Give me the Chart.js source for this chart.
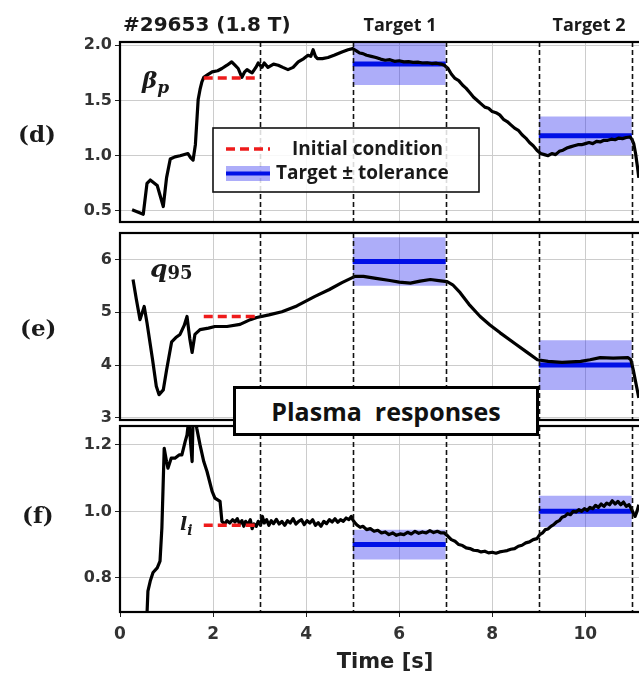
<!DOCTYPE html>
<html><head><meta charset="utf-8">
<script src="https://cdn.jsdelivr.net/npm/chart.js@4.4.0/dist/chart.umd.min.js"></script>
<style>
html,body{margin:0;padding:0;background:#fff;overflow:hidden;}
#wrap{position:relative;width:639px;height:680px;overflow:hidden;background:#fff;}
canvas{position:absolute;left:0;top:0;}
.t{position:absolute;white-space:nowrap;line-height:1;color:#1a1a1a;}
.sans{font-family:"DejaVu Sans",sans-serif;font-weight:bold;}
.open{font-family:"Open Sans",sans-serif;font-weight:bold;}
.serif{font-family:"DejaVu Serif",serif;font-weight:bold;}
.ctr{transform:translateX(-50%);}
#plasma{position:absolute;left:233px;top:386px;width:306px;height:50px;box-sizing:border-box;border:3px solid #000;background:#fff;display:flex;align-items:center;justify-content:center;font-family:"Open Sans",sans-serif;font-weight:bold;font-size:25px;color:#111;white-space:pre;}
</style></head>
<body><div id="wrap">
<canvas id="cd" width="650" height="680"></canvas>
<canvas id="ce" width="650" height="680"></canvas>
<canvas id="cf" width="650" height="680"></canvas>
<div class="t sans" style="left:123px;top:14px;font-size:20px;">#29653 (1.8 T)</div>
<div class="t open ctr" style="left:400px;top:15px;font-size:18px;">Target 1</div>
<div class="t open ctr" style="left:589px;top:15px;font-size:18px;">Target 2</div>
<div class="t serif" style="left:18px;top:122px;font-size:23px;">(d)</div>
<div class="t serif" style="left:20px;top:316px;font-size:23px;">(e)</div>
<div class="t serif" style="left:22px;top:503px;font-size:23px;">(f)</div>
<div class="t serif" style="left:142px;top:68px;font-size:23px;font-style:italic;">β<span style="font-size:17px;position:relative;top:5px;">p</span></div>
<div class="t serif" style="left:150px;top:256px;font-size:25px;font-style:italic;">q<span style="font-size:18px;font-style:normal;position:relative;top:2px;">95</span></div>
<div class="t serif" style="left:180px;top:514px;font-size:19px;font-style:italic;">l<span style="font-size:14px;position:relative;top:5px;">i</span></div>
<div id="plasma">Plasma  responses</div>
</div>
<script>
// ---------------- data ----------------
const xTicks = [0, 2, 4, 6, 8, 10];
const xMin = 0, xMax = 11.39;
const markerTimes = [3, 5, 7, 9, 11];
const targetWindows = [[5, 7], [9, 11]];
const initWindow = [1.8, 3];

// beta_p
const tBeta = [0.26,0.5,0.58,0.65,0.8,0.93,1.0,1.08,1.18,1.29,1.46,1.52,1.57,1.62,1.68,1.72,1.76,1.8,1.87,1.98,2.1,2.19,2.3,2.4,2.47,2.54,2.62,2.68,2.73,2.8,2.84,2.92,2.97,3.05,3.1,3.18,3.3,3.4,3.5,3.61,3.72,3.83,3.95,4.04,4.1,4.15,4.2,4.24,4.35,4.47,4.6,4.77,4.9,
  5.0,5.08,5.15,5.22,5.3,5.4,5.5,5.6,5.7,5.8,5.9,6.0,6.1,6.2,6.3,6.4,6.5,6.6,6.7,6.8,6.9,6.97,7.05,7.12,7.2,7.28,7.36,7.44,7.52,7.6,7.68,7.76,7.84,7.92,8.0,8.08,8.16,8.24,8.32,8.4,8.48,8.56,8.64,8.72,8.8,8.88,8.96,9.04,9.12,9.2,9.28,9.36,9.44,9.52,9.6,9.68,9.76,9.84,9.92,10.0,10.08,10.16,10.24,10.32,10.4,10.48,10.56,10.64,10.72,10.8,10.88,10.96,11.0,11.04,11.08,11.12,11.15];
const betaP = [0.51,0.47,0.75,0.78,0.73,0.54,0.8,0.97,0.99,1.0,1.02,0.98,0.96,1.1,1.51,1.6,1.67,1.71,1.73,1.76,1.77,1.79,1.82,1.85,1.82,1.79,1.71,1.76,1.78,1.76,1.75,1.8,1.84,1.8,1.84,1.8,1.83,1.82,1.8,1.78,1.8,1.85,1.88,1.91,1.9,1.96,1.9,1.88,1.88,1.89,1.91,1.94,1.96,
  1.97,1.95,1.93,1.925,1.91,1.9,1.89,1.875,1.865,1.87,1.855,1.86,1.85,1.852,1.845,1.848,1.84,1.842,1.835,1.838,1.83,1.82,1.79,1.74,1.7,1.68,1.64,1.61,1.57,1.53,1.5,1.47,1.44,1.43,1.4,1.39,1.37,1.33,1.31,1.28,1.25,1.23,1.19,1.16,1.12,1.09,1.05,1.02,1.01,1.0,1.02,1.01,1.04,1.05,1.07,1.08,1.09,1.1,1.1,1.11,1.12,1.11,1.13,1.125,1.14,1.14,1.15,1.145,1.16,1.155,1.165,1.17,1.15,1.11,1.02,0.9,0.8];
const betaInit = 1.705;
const betaTarget = [1.83, 1.18];
const betaTol = [0.19, 0.175];
const betaTicks = [0.5, 1.0, 1.5, 2.0];
const betaMin = 0.4, betaMax = 2.03;

// q95
const tQ = [0.28,0.35,0.43,0.52,0.58,0.7,0.78,0.84,0.93,1.0,1.11,1.2,1.29,1.38,1.44,1.5,1.55,1.61,1.72,1.9,2.04,2.3,2.58,2.8,2.94,3.2,3.48,3.8,4.19,4.5,4.77,5.05,5.23,5.5,5.8,6.0,6.24,6.45,6.67,6.85,7.03,7.15,7.31,7.5,7.74,7.95,8.17,8.5,8.75,8.97,9.2,9.5,9.9,10.1,10.32,10.6,10.92,10.98,11.03,11.1,11.15];
const q95 = [5.62,5.25,4.86,5.11,4.8,4.1,3.6,3.44,3.53,3.9,4.44,4.52,4.58,4.75,4.92,4.5,4.24,4.58,4.67,4.7,4.73,4.73,4.77,4.86,4.9,4.95,5.01,5.12,5.3,5.43,5.56,5.68,5.68,5.64,5.6,5.57,5.55,5.59,5.62,5.6,5.58,5.52,5.37,5.15,4.92,4.76,4.61,4.4,4.24,4.1,4.07,4.05,4.07,4.1,4.14,4.13,4.14,4.1,3.91,3.6,3.38];
const q95Init = 4.92;
const q95Target = [5.96, 4.0];
const q95Tol = [0.46, 0.47];
const q95Ticks = [3, 4, 5, 6];
const q95Min = 2.96, q95Max = 6.5;

// l_i
const tLi = [0.58,0.6,0.65,0.71,0.8,0.86,0.9,0.95,1.0,1.03,1.1,1.18,1.27,1.33,1.4,1.44,1.48,1.52,1.55,1.57,1.62,1.65,1.72,1.8,1.87,1.98,2.04,2.15,
  2.19,2.25,2.3,2.36,2.42,2.47,2.52,2.57,2.62,2.66,2.7,2.75,2.8,2.84,2.88,2.93,2.97,3.02,3.06,3.1,3.15,3.2,3.25,3.3,3.36,3.42,3.48,3.54,3.6,3.66,3.72,3.78,3.84,3.9,3.96,4.02,4.08,4.14,4.2,4.26,4.32,4.38,4.44,4.5,4.56,4.62,4.68,4.74,4.8,4.86,4.92,4.97,5.0,
  5.05,5.1,5.16,5.22,5.3,5.38,5.46,5.54,5.62,5.7,5.78,5.86,5.94,6.02,6.1,6.18,6.26,6.34,6.42,6.5,6.58,6.66,6.74,6.82,6.9,6.97,7.05,7.12,7.2,7.28,7.36,7.44,7.52,7.6,7.68,7.76,7.84,7.92,8.0,8.08,8.16,8.24,8.32,8.4,8.48,8.56,8.64,8.72,8.8,8.88,8.96,9.02,9.08,9.14,9.2,9.26,9.32,9.38,9.44,9.5,9.56,9.62,9.68,9.74,9.8,9.86,9.92,9.98,10.04,10.1,10.16,10.22,10.28,10.34,10.4,10.46,10.52,10.58,10.64,10.7,10.76,10.82,10.88,10.94,10.98,11.03,11.07,11.11,11.15];
const li = [0.69,0.76,0.79,0.816,0.83,0.85,0.95,1.19,1.15,1.13,1.16,1.16,1.17,1.17,1.21,1.23,1.28,1.2,1.15,1.28,1.28,1.25,1.2,1.15,1.12,1.06,1.04,1.03,
  0.97,0.962,0.972,0.965,0.975,0.968,0.978,0.962,0.972,0.955,0.97,0.96,0.975,0.948,0.962,0.955,0.97,0.958,0.985,0.965,0.975,0.958,0.972,0.963,0.976,0.962,0.97,0.958,0.972,0.965,0.978,0.962,0.97,0.975,0.96,0.972,0.965,0.975,0.958,0.966,0.955,0.97,0.963,0.975,0.968,0.978,0.967,0.975,0.97,0.98,0.975,0.985,0.975,
  0.965,0.958,0.952,0.955,0.945,0.948,0.94,0.943,0.935,0.938,0.93,0.935,0.928,0.932,0.93,0.937,0.932,0.94,0.934,0.938,0.935,0.942,0.936,0.94,0.935,0.935,0.925,0.915,0.91,0.9,0.897,0.89,0.888,0.883,0.882,0.878,0.88,0.875,0.877,0.874,0.878,0.88,0.882,0.886,0.888,0.895,0.898,0.905,0.908,0.915,0.918,0.93,0.935,0.945,0.947,0.955,0.96,0.968,0.972,0.982,0.985,0.993,0.99,1.0,0.998,1.005,1.0,1.008,1.003,1.012,1.008,1.018,1.012,1.022,1.015,1.025,1.02,1.032,1.022,1.03,1.02,1.028,1.015,1.02,1.01,0.995,0.985,1.0,1.02];
const liInit = 0.958;
const liTarget = [0.9, 1.0];
const liTol = [0.045, 0.047];
const liTicks = [0.8, 1.0, 1.2];
const liMin = 0.697, liMax = 1.257;

// ---------------- styles ----------------
const RED = '#ee1b1b', BLUE = '#0010e6', BAND = 'rgba(40,40,240,0.38)', GRID = '#cccccc';

function pts(xs, ys) { return xs.map((x, i) => ({x, y: ys[i]})); }

function buildDatasets(t, v, init, targets, tols) {
  const ds = [];
  ds.push({data: [{x: initWindow[0], y: init}, {x: initWindow[1], y: init}], borderColor: RED, borderWidth: 3.5, borderDash: [9, 5], order: 0});
  ds.push({data: pts(t, v), borderColor: '#000', borderWidth: 3.2, order: 1, borderJoinStyle: 'round'});
  targetWindows.forEach((w, i) => {
    ds.push({data: [{x: w[0], y: targets[i]}, {x: w[1], y: targets[i]}], borderColor: BLUE, borderWidth: 5, order: 2});
    ds.push({data: [{x: w[0], y: targets[i] + tols[i]}, {x: w[1], y: targets[i] + tols[i]}], borderWidth: 0, borderColor: 'rgba(0,0,0,0)', backgroundColor: BAND, fill: {value: targets[i] - tols[i]}, order: 3});
  });
  ds.forEach(d => { d.pointRadius = 0; d.tension = 0; d.clip = 0; });
  return ds;
}

const framePlugin = {
  id: 'frame',
  afterDatasetsDraw(c) {
    const {ctx, chartArea: a, scales} = c;
    ctx.save();
    ctx.beginPath(); ctx.rect(a.left, a.top, a.right - a.left, a.bottom - a.top); ctx.clip();
    ctx.strokeStyle = '#111'; ctx.lineWidth = 1.6; ctx.setLineDash([5, 3]);
    markerTimes.forEach(tm => {
      const px = Math.round(scales.x.getPixelForValue(tm)) + 0.5;
      ctx.beginPath(); ctx.moveTo(px, a.top); ctx.lineTo(px, a.bottom); ctx.stroke();
    });
    ctx.restore();
  },
  afterDraw(c) {
    const {ctx, chartArea: a} = c;
    ctx.save();
    ctx.strokeStyle = '#000'; ctx.lineWidth = 2.2;
    ctx.strokeRect(a.left, a.top, a.right - a.left, a.bottom - a.top);
    ctx.restore();
  }
};

const legendPlugin = {
  id: 'legendBox',
  afterDraw(c) {
    const ctx = c.ctx;
    ctx.save();
    ctx.fillStyle = 'rgba(255,255,255,0.85)';
    ctx.fillRect(213, 128, 266, 64);
    ctx.strokeStyle = '#111'; ctx.lineWidth = 1.6;
    ctx.strokeRect(213, 128, 266, 64);
    ctx.setLineDash([9, 5]); ctx.strokeStyle = RED; ctx.lineWidth = 3.5;
    ctx.beginPath(); ctx.moveTo(226, 149); ctx.lineTo(270, 149); ctx.stroke();
    ctx.setLineDash([]);
    ctx.fillStyle = BAND; ctx.fillRect(226, 166, 44, 15);
    ctx.strokeStyle = BLUE; ctx.lineWidth = 4;
    ctx.beginPath(); ctx.moveTo(226, 173.5); ctx.lineTo(270, 173.5); ctx.stroke();
    ctx.fillStyle = '#1a1a1a'; ctx.font = 'bold 19px "Open Sans"'; ctx.textBaseline = 'alphabetic';
    ctx.fillText('Initial condition', 292, 155);
    ctx.fillText('Target \u00b1 tolerance', 276, 179);
    ctx.restore();
  }
};

function makeChart(id, t, v, init, targets, tols, yTicks, yMin, yMax, dp, top, bottomPad, isBottom, extra) {
  const xAxis = {
    type: 'linear', min: xMin, max: xMax,
    afterBuildTicks: s => { s.ticks = xTicks.map(val => ({value: val})); },
    grid: {color: GRID, lineWidth: 1, drawTicks: isBottom, tickLength: 5, tickColor: '#222'},
    border: {display: false},
    ticks: {display: isBottom, color: '#333', padding: 7, font: {family: 'DejaVu Sans', weight: 'bold', size: 17}},
    afterFit: s => { s.height = isBottom ? 68 : 0; }
  };
  if (isBottom) {
    xAxis.title = {display: true, text: 'Time [s]', color: '#222', font: {family: 'DejaVu Sans', weight: 'bold', size: 21}, padding: {top: 0, bottom: 5}};
  }
  return new Chart(document.getElementById(id), {
    type: 'line',
    data: {datasets: buildDatasets(t, v, init, targets, tols)},
    options: {
      responsive: false, animation: false, events: [],
      layout: {padding: {top: top, bottom: bottomPad, left: 0, right: 0}},
      plugins: {legend: {display: false}, tooltip: {enabled: false}},
      scales: {
        x: xAxis,
        y: {
          min: yMin, max: yMax,
          afterBuildTicks: s => { s.ticks = yTicks.map(val => ({value: val})); },
          afterFit: s => { s.width = 120; },
          grid: {color: GRID, lineWidth: 1, tickLength: 5, tickColor: '#222'},
          border: {display: false},
          ticks: {color: '#333', padding: 3, font: {family: 'DejaVu Sans', weight: 'bold', size: 16}, callback: val => Number(val).toFixed(dp)}
        }
      }
    },
    plugins: [framePlugin].concat(extra || [])
  });
}

makeChart('cd', tBeta, betaP, betaInit, betaTarget, betaTol, betaTicks, betaMin, betaMax, 1, 42, 680 - 222, false, [legendPlugin]);
makeChart('ce', tQ, q95, q95Init, q95Target, q95Tol, q95Ticks, q95Min, q95Max, 0, 233, 680 - 420, false);
makeChart('cf', tLi, li, liInit, liTarget, liTol, liTicks, liMin, liMax, 1, 426, 0, true);
</script>
</body></html>
